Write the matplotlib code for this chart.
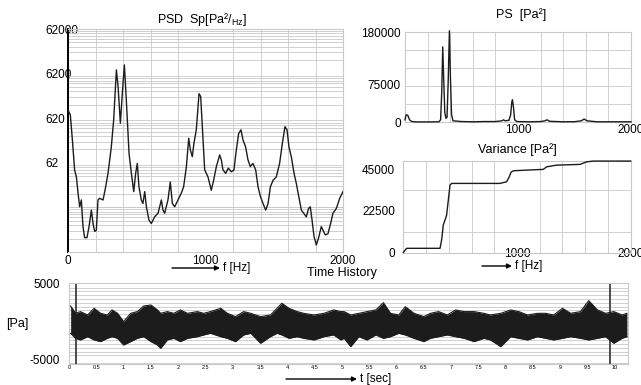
import matplotlib
matplotlib.use("Agg")
import matplotlib.pyplot as plt
from matplotlib.ticker import FixedLocator, NullFormatter

plt.rcParams["font.family"] = ["Liberation Sans", "DejaVu Sans"]
plt.rcParams["mathtext.fontset"] = "custom"
plt.rcParams["mathtext.rm"] = "Liberation Sans"
plt.rcParams["mathtext.it"] = "Liberation Sans"

# PSD Sp [Pa^2/Hz], log scale
psd_freq = [0, 17, 32, 48, 61, 73, 85, 97, 109, 121, 138, 153, 170, 182, 194, 206,
            218, 230, 255, 274, 291, 315, 332, 352, 364, 381, 395, 410, 424, 444,
            461, 478, 492, 504, 516, 533, 545, 558, 570, 589, 606, 630, 655, 679,
            691, 703, 727, 744, 759, 776, 800, 824, 841, 861, 878, 890, 904, 916,
            933, 953, 965, 977, 994, 1018, 1042, 1059, 1079, 1103, 1115, 1127,
            1147, 1166, 1188, 1207, 1224, 1241, 1258, 1273, 1292, 1309, 1326, 1345,
            1365, 1382, 1399, 1418, 1438, 1455, 1472, 1491, 1515, 1539, 1559, 1578,
            1593, 1607, 1624, 1644, 1661, 1678, 1697, 1714, 1733, 1750, 1762, 1775,
            1789, 1806, 1823, 1842, 1855, 1871, 1891, 1910, 1927, 1952, 1976, 2000]
psd_val = [950, 730, 200, 43, 30, 13, 6.4, 9.1, 2.3, 1.3, 1.3, 2.3, 5.4, 2.7, 1.8, 1.9,
           9.1, 9.9, 9.1, 18, 36, 140, 560, 7500, 3200, 480, 2200, 9700, 1600, 100,
           36, 14, 36, 60, 18, 9.1, 7.6, 14, 6.4, 3.2, 2.7, 3.8, 4.6, 9.1,
           5.4, 4.6, 9.1, 23, 7.6, 6.4, 9.1, 13, 18, 51, 220, 120, 85, 170,
           340, 2200, 1900, 400, 43, 30, 15, 25, 51, 93, 72, 43,
           36, 47, 39, 43, 120, 280, 340, 200, 140, 72, 51, 60,
           43, 18, 11, 7.6, 5.4, 7.6, 18, 25, 30, 60, 170, 400,
           340, 140, 85, 36, 21, 11, 5.4, 4.6, 3.8, 5.9, 6.4, 3.2,
           1.4, 0.89, 1.3, 2.3, 1.9, 1.5, 1.6, 2.7, 4.6, 5.9, 9.9, 14]

# PS [Pa^2]
ps_freq = [0, 10, 25, 40, 60, 100, 200, 300, 315, 325, 334, 342, 352, 362, 372, 382,
           393, 402, 412, 425, 450, 500, 600, 700, 800, 860, 871, 885, 920, 935, 945,
           951, 960, 970, 990, 1100, 1200, 1240, 1256, 1280, 1400, 1500, 1560, 1586,
           1610, 1700, 1850, 2000]
ps_val = [5000, 15000, 14000, 5000, 1500, 800, 700, 1000, 5000, 60000, 151000, 90000,
          20000, 8000, 10000, 80000, 183000, 90000, 15000, 3000, 2500, 1500, 1000,
          1500, 1500, 3000, 5000, 3000, 4000, 15000, 40000, 45000, 30000, 5000, 1500,
          1000, 1500, 3000, 5000, 2000, 1000, 1200, 3000, 6500, 3000, 1000, 1000, 1000]

# Variance [Pa^2]
var_freq = [0, 29, 323, 337, 352, 367, 381, 396, 411, 425, 850, 909, 932, 947, 962,
            982, 1085, 1231, 1261, 1349, 1554, 1613, 1671, 2000]
var_val = [0, 2270, 2270, 6760, 15000, 17600, 20300, 28400, 36500, 37400, 37400, 38300,
           41000, 43400, 44100, 44300, 44600, 45000, 46400, 47300, 47700, 49100, 49500,
           49500]

# Time history [Pa]: envelope of the signal
th_time = [0.03, 0.12, 0.21, 0.34, 0.46, 0.58, 0.70, 0.79, 0.89, 1.00, 1.13, 1.25,
           1.37, 1.50, 1.62, 1.68, 1.80, 1.92, 2.04, 2.17, 2.35, 2.47, 2.59, 2.78,
           2.90, 3.05, 3.20, 3.33, 3.51, 3.69, 3.81, 3.90, 4.03, 4.18, 4.30, 4.49,
           4.67, 4.85, 4.98, 5.04, 5.16, 5.31, 5.46, 5.62, 5.76, 5.89, 6.04, 6.16,
           6.32, 6.50, 6.62, 6.77, 6.93, 7.08, 7.24, 7.42, 7.60, 7.72, 7.91, 8.09,
           8.24, 8.40, 8.58, 8.73, 8.88, 9.04, 9.19, 9.37, 9.52, 9.68, 9.83, 9.98,
           10.13, 10.22]
th_upper = [2070, 1090, 1320, 870, 1760, 1090, 870, 1540, 1090, -20, 1090, 1320,
            2070, 2200, 1540, 1090, 1320, 1090, 1540, 1090, 1320, 1090, 1320, 1760,
            1090, 650, 1320, 1090, 650, 870, 1760, 2430, 1760, 1320, 1090, 870,
            1090, 1540, 1320, 1320, 870, 1090, 1320, 1540, 2510, 1090, 870, 1980,
            1090, 650, 1090, 1320, 870, 1540, 1320, 1320, 1090, 870, 1090, 1540,
            1320, 870, 1090, 1090, 870, 1760, 1090, 1320, 2780, 1540, 1090, 1320,
            870, 1090]
th_lower = [-1570, -2240, -2460, -2020, -2460, -2680, -2240, -2020, -2240, -3130, -2680, -2240,
            -2020, -2680, -3130, -3570, -2460, -2240, -2680, -2240, -2020, -1790, -1570, -2020,
            -2240, -2680, -1790, -1570, -2900, -2020, -1570, -1790, -2240, -2020, -2240, -2460,
            -2020, -1790, -2460, -2240, -3350, -2020, -2460, -1790, -2240, -2020, -1570, -1790,
            -2240, -2680, -2240, -2020, -1790, -2020, -2240, -2680, -2240, -2460, -3350, -2020,
            -2240, -2460, -2020, -2240, -2460, -2240, -2020, -2240, -2460, -2240, -2020, -2900,
            -2240, -2020]
th_markers = [0.12, 9.91]

psd_yticks = [62, 620, 6200, 62000]
psd_ylabels = ["62", "620", "6200", "62000"]
ps_yticks = [0, 75000, 180000]
var_yticks = [0, 22500, 45000]
f_ticks = [1000, 2000]
t_ticks = [i * 0.5 for i in range(21)]
t_labels = ["0", "0.5", "1", "1.5", "2", "2.5", "3", "3.5", "4", "4.5", "5", "5.5",
            "6", "6.5", "7", "7.5", "8", "8.5", "9", "9.5", "10"]

W, H = 641, 385
GRID = "#c9c9c9"
LINE = "#1c1c1c"
FS = 8.5


def box(x0, y0, x1, y1):
    return [x0 / W, 1 - y1 / H, (x1 - x0) / W, (y1 - y0) / H]


def style(ax):
    for s in ax.spines.values():
        s.set_color(GRID)
        s.set_linewidth(0.8)
    ax.tick_params(which="both", length=0, labelsize=FS)
    ax.grid(which="minor", color=GRID, lw=0.6)
    ax.grid(which="major", visible=False)
    ax.set_axisbelow(True)


def arrow(x0, x1, y, label):
    fig.add_artist(plt.Annotation("", xy=(x1, H - y), xytext=(x0, H - y),
                                  xycoords="figure pixels", textcoords="figure pixels",
                                  arrowprops=dict(arrowstyle="-|>", color="black", lw=1,
                                                  mutation_scale=7, shrinkA=0, shrinkB=0)))
    fig.text((x1 + 3) / W, 1 - y / H, label, ha="left", va="center", fontsize=FS)


fig = plt.figure(figsize=(6.41, 3.85), dpi=100)

# PSD
ax = fig.add_axes(box(68, 29, 343, 252))
ax.set_yscale("log")
ax.plot(psd_freq, psd_val, color=LINE, lw=1, zorder=3)
ax.set_xlim(0, 2000)
ax.set_ylim(0.62, 62000)
ax.set_xticks([0, 1000, 2000])
ax.set_yticks(psd_yticks, labels=psd_ylabels)
ax.xaxis.set_minor_locator(FixedLocator(range(0, 2001, 200)))
ax.yaxis.set_minor_locator(FixedLocator([0.62 * k * 10 ** n for n in range(5) for k in range(1, 11)]))
ax.yaxis.set_minor_formatter(NullFormatter())
style(ax)
ax.spines["left"].set_color("black")
ax.spines["left"].set_linewidth(1.4)
for lab in ax.get_yticklabels():
    lab.set_horizontalalignment("left")
ax.tick_params(axis="y", pad=16)
ax.tick_params(axis="x", pad=2)
fig.text(202 / W, 1 - 19 / H, r"PSD  Sp[Pa²/$_{\rm Hz}$]", ha="center", va="center", fontsize=9)
arrow(172, 220, 268, "f [Hz]")

# PS
ax = fig.add_axes(box(405, 32.3, 631, 122.3))
ax.plot(ps_freq, ps_val, color=LINE, lw=1, clip_on=False, zorder=3)
ax.set_xlim(0, 2000)
ax.set_ylim(0, 180000)
ax.set_xticks(f_ticks)
ax.set_yticks(ps_yticks)
ax.xaxis.set_minor_locator(FixedLocator(range(0, 2001, 200)))
ax.yaxis.set_minor_locator(FixedLocator(range(0, 180001, 36000)))
style(ax)
ax.tick_params(axis="y", pad=3)
ax.tick_params(axis="x", pad=1)
fig.text(521 / W, 1 - 15 / H, "PS  [Pa²]", ha="center", va="center", fontsize=9)

# Variance
ax = fig.add_axes(box(403.3, 160.7, 630.7, 252.5))
ax.plot(var_freq, var_val, color=LINE, lw=1, clip_on=False, zorder=3)
ax.set_xlim(0, 2000)
ax.set_ylim(0, 49700)
ax.set_xticks(f_ticks)
ax.set_yticks(var_yticks)
ax.xaxis.set_minor_locator(FixedLocator(range(0, 2001, 200)))
ax.yaxis.set_minor_locator(FixedLocator([0, 11250, 22500, 33750, 45000, 49700]))
style(ax)
ax.tick_params(axis="y", pad=6)
ax.tick_params(axis="x", pad=-3)
fig.text(517 / W, 1 - 150 / H, "Variance [Pa²]", ha="center", va="center", fontsize=9)
arrow(482, 512, 266, "f [Hz]")

# Time history
ax = fig.add_axes(box(69, 282.7, 628, 363.7))
ax.fill_between(th_time, th_lower, th_upper, color=LINE, lw=0, zorder=3)
ax.plot(th_time, th_upper, color=LINE, lw=0.8, zorder=3)
ax.plot(th_time, th_lower, color=LINE, lw=0.8, zorder=3)
for t in th_markers:
    ax.axvline(t, color="#303030", lw=1.2)
ax.set_xlim(0, 10.24)
ax.set_ylim(-5624, 5173)
ax.set_xticks(t_ticks, labels=t_labels)
ax.set_yticks([-5000, 5000], labels=["-5000", "5000"])
ax.xaxis.set_minor_locator(FixedLocator(t_ticks))
ax.yaxis.set_minor_locator(FixedLocator(range(-5500, 5001, 500)))
style(ax)
ax.tick_params(axis="x", labelsize=4, pad=1)
ax.tick_params(axis="y", pad=6.5)
fig.text(17 / W, 1 - 323.7 / H, "[Pa]", ha="center", va="center", fontsize=9)
fig.text(342 / W, 1 - 273 / H, "Time History", ha="center", va="center", fontsize=9)
arrow(286, 357, 379, "t [sec]")

fig.savefig("out.png", dpi=100)
